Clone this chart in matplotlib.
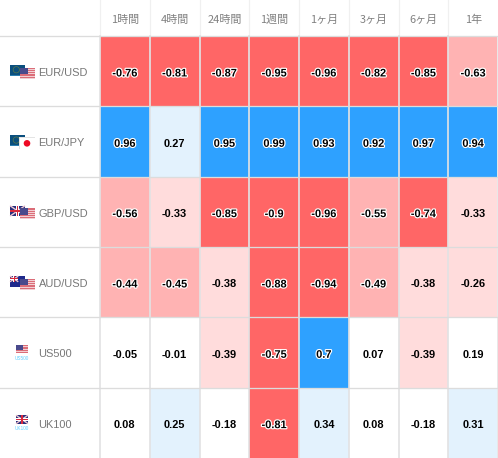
import numpy as np
import matplotlib
matplotlib.use("Agg")
import matplotlib.pyplot as plt
from matplotlib.colors import ListedColormap, BoundaryNorm
from matplotlib.patches import Rectangle, Circle
import matplotlib.patheffects as pe

periods = ["1時間", "4時間", "24時間", "1週間", "1ヶ月", "3ヶ月", "6ヶ月", "1年"]
instruments = ["EUR/USD", "EUR/JPY", "GBP/USD", "AUD/USD", "US500", "UK100"]
eur_usd = [-0.76, -0.81, -0.87, -0.95, -0.96, -0.82, -0.85, -0.63]
eur_jpy = [0.96, 0.27, 0.95, 0.99, 0.93, 0.92, 0.97, 0.94]
gbp_usd = [-0.56, -0.33, -0.85, -0.9, -0.96, -0.55, -0.74, -0.33]
aud_usd = [-0.44, -0.45, -0.38, -0.88, -0.94, -0.49, -0.38, -0.26]
us500 = [-0.05, -0.01, -0.39, -0.75, 0.7, 0.07, -0.39, 0.19]
uk100 = [0.08, 0.25, -0.18, -0.81, 0.34, 0.08, -0.18, 0.31]
rows = [eur_usd, eur_jpy, gbp_usd, aud_usd, us500, uk100]

W, H = 498, 458
LEFT, TOP = 100, 36
values = np.array(rows)
nrow, ncol = values.shape
xe = np.linspace(LEFT, W, ncol + 1)
ye = np.linspace(TOP, H, nrow + 1)

fig = plt.figure(figsize=(W / 100, H / 100), dpi=100, facecolor="white")
ax = fig.add_axes([0, 0, 1, 1])
ax.set_xlim(0, W)
ax.set_ylim(H, 0)
ax.axis("off")

cmap = ListedColormap(["#ff6666", "#ffb3b3", "#ffdcdc", "#ffffff", "#e3f2fd", "#2ea1ff"])
norm = BoundaryNorm([-1.01, -0.7, -0.4, -0.2, 0.2, 0.5, 1.01], cmap.N)
ax.pcolormesh(xe, ye, values, cmap=cmap, norm=norm, zorder=1)

LINE_PT = 72 / 100
for x in xe[:-1]:
    ax.plot([x, x], [0, TOP], color="#f0f0f0", lw=1.2 * LINE_PT, zorder=2)
    ax.plot([x, x], [TOP, H], color="#e2e2e4", lw=1.7 * LINE_PT, zorder=2)
for y in ye[:-1]:
    ax.plot([0, W], [y, y], color="#dcdcdc", lw=1.3 * LINE_PT, zorder=3)
ax.plot([xe[-1] - 1, xe[-1] - 1], [TOP, H], color="#e8e8e8", lw=1.0 * LINE_PT, zorder=2)
ax.plot([LEFT, W], [H - 0.5, H - 0.5], color="#e8e8e8", lw=1.0 * LINE_PT, zorder=3)

FS = 11 * 72 / 100
for j, p in enumerate(periods):
    ax.text((xe[j] + xe[j + 1]) / 2, 22.5, p, ha="center", va="baseline", fontsize=FS,
            color="#808080", family=["Noto Sans CJK JP", "DejaVu Sans"], zorder=5)

for i in range(nrow):
    yc = (ye[i] + ye[i + 1]) / 2
    for j in range(ncol):
        v = values[i, j]
        t = ax.text((xe[j] + xe[j + 1]) / 2, yc + 5.3, f"{v:g}", ha="center", va="baseline",
                    fontsize=FS, fontweight="bold", color="#000000",
                    family="Liberation Sans", zorder=6)
        if abs(v) >= 0.4:
            t.set_path_effects([pe.withStroke(linewidth=1.7, foreground="white")])
    ax.text(38.6, yc + 4.8, instruments[i], ha="left", va="baseline",
            fontsize=FS, color="#777777", family="Liberation Sans", zorder=6)


def rect(x, y, w, h, c, z=4, alpha=1.0):
    ax.add_patch(Rectangle((x, y), w, h, facecolor=c, edgecolor="none", zorder=z, alpha=alpha))


def us_flag(x, y, w, h, z, alpha=0.9):
    rect(x, y, w, h, "#f2cfd3", z)
    stripes = 5
    for k in range(stripes):
        rect(x, y + (k + 0.1) * h / stripes, w, h / stripes * 0.55, "#d9626e", z, alpha)
    rect(x, y, w * 0.55, h * 0.58, "#4a4a8c", z)


def eu_flag(x, y, w, h, z):
    rect(x, y, w, h, "#0a4f7e", z)
    rect(x, y + h - 1, w, 1, "#2a7fb0", z)
    ax.add_patch(Circle((x + w * 0.42, y + h * 0.45), h * 0.3, fill=False, ec="#5d7a4a",
                        lw=0.5, zorder=z))


def uk_flag(x, y, w, h, z):
    rect(x, y, w, h, "#27307e", z)
    ax.plot([x, x + w], [y, y + h], color="#f0c8d0", lw=1.0, zorder=z, solid_capstyle="butt")
    ax.plot([x, x + w], [y + h, y], color="#f0c8d0", lw=1.0, zorder=z, solid_capstyle="butt")
    rect(x, y + h / 2 - 1.2, w, 2.4, "#ffffff", z)
    rect(x + w / 2 - 1.2, y, 2.4, h, "#ffffff", z)
    rect(x, y + h / 2 - 0.6, w, 1.2, "#d8283c", z)
    rect(x + w / 2 - 0.6, y, 1.2, h, "#d8283c", z)


def au_flag(x, y, w, h, z):
    rect(x, y, w, h, "#1f2a8c", z)
    uk_flag(x, y, w * 0.55, h * 0.55, z)
    for dx, dy in [(0.7, 0.3), (0.85, 0.55), (0.65, 0.75)]:
        rect(x + w * dx, y + h * dy, 1, 1, "#ffffff", z)


def jp_flag(x, y, w, h, z):
    rect(x - 0.5, y - 0.5, w + 1, h + 1, "#e4e4e4", z)
    rect(x, y, w, h, "#ffffff", z)
    ax.add_patch(Circle((x + w / 2, y + h / 2), h * 0.3, color="#ee0a24", lw=0, zorder=z))


def pair(i, top_flag, bottom_flag):
    y0 = ye[i] + 29
    top_flag(10, y0, 15, 10.5, 7)
    bottom_flag(19.5, y0 + 2.5, 15, 11, 8)


pair(0, eu_flag, us_flag)
pair(1, eu_flag, jp_flag)
pair(2, uk_flag, us_flag)
pair(3, au_flag, us_flag)


def index_icon(i, flag, name):
    y0 = ye[i] + 27.5
    flag(16, y0, 12, 8.5, 7)
    ax.text(22, y0 + 15, name, ha="center", va="baseline", fontsize=3.4, color="#5fd0ff",
            family="Liberation Sans", zorder=7)


index_icon(4, us_flag, instruments[4])
index_icon(5, uk_flag, instruments[5])

fig.savefig("out.png", dpi=100, facecolor="white")
